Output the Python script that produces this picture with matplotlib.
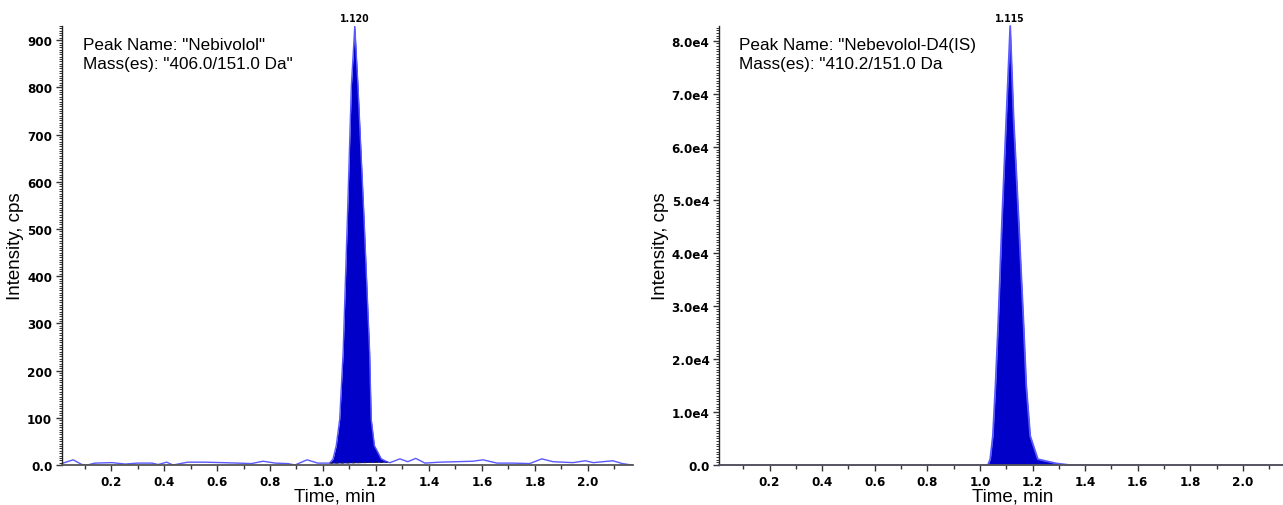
import matplotlib
matplotlib.use("Agg")
import matplotlib.pyplot as plt
from matplotlib import font_manager as fm
from matplotlib.ticker import MultipleLocator, FuncFormatter

# ---- Nebivolol channel (406.0/151.0) ----
neb_noise_t = [0.008, 0.057, 0.09, 0.11, 0.14, 0.204, 0.253, 0.30, 0.355, 0.378,
               0.41, 0.434, 0.49, 0.555, 0.62, 0.68, 0.73, 0.774, 0.82, 0.868,
               0.894, 0.94, 0.98, 1.02]
neb_noise_y = [2, 11, 1, 0, 4, 5, 2, 4, 4, 1,
               6, 0, 6, 6, 5, 4, 3, 8, 4, 3,
               0, 11, 4, 4]
neb_peak_t = [1.025, 1.038, 1.050, 1.063, 1.076, 1.092, 1.107, 1.120,
              1.132, 1.155, 1.176, 1.182, 1.194, 1.220, 1.245]
neb_peak_y = [4, 13, 41, 97, 239, 521, 803, 930,
              803, 521, 239, 97, 41, 13, 6]
neb_tail_t = [1.253, 1.29, 1.32, 1.35, 1.385, 1.44, 1.506, 1.566, 1.604, 1.657,
              1.717, 1.78, 1.826, 1.868, 1.943, 1.99, 2.02, 2.094, 2.13, 2.165]
neb_tail_y = [5, 13, 7, 14, 4, 6, 7, 8, 11, 4,
              4, 3, 13, 7, 5, 9, 5, 9, 3, 0]
neb_apex = "1.120"

# ---- Nebivolol-D4 internal standard channel (410.2/151.0) ----
is_base_t = [0.008, 0.5, 1.0, 1.025]
is_base_y = [0, 0, 0, 0]
is_peak_t = [1.030, 1.039, 1.049, 1.059, 1.070, 1.084, 1.100, 1.115,
             1.128, 1.147, 1.165, 1.176, 1.191, 1.220, 1.290, 1.340]
is_peak_y = [0, 1100, 5500, 15000, 27500, 46400, 65300, 82800,
             65300, 46400, 27500, 15000, 5500, 1100, 300, 0]
is_tail_t = [1.40, 1.8, 2.16]
is_tail_y = [0, 0, 0]
is_apex = "1.115"

FILL = "#0000c8"
LINE = "#5a5aff"
TEXT_FAMILY = ["Liberation Sans", "DejaVu Sans"]


def narrow_bold_font(size):
    """Pick an installed condensed/narrow bold sans face for tick labels."""
    best = None
    for f in fm.fontManager.ttflist:
        name = f.name.lower()
        stretch = f.stretch
        narrow = ("narrow" in name or "condensed" in name
                  or (isinstance(stretch, str) and ("condensed" in stretch or "narrow" in stretch))
                  or (isinstance(stretch, (int, float)) and stretch < 500))
        if not narrow or "mono" in name or "serif" in name and "sans" not in name:
            continue
        w = f.weight
        wnum = {"bold": 700, "semibold": 600, "demibold": 600, "heavy": 800,
                "black": 900, "normal": 400, "regular": 400, "medium": 500}.get(w, w) \
            if isinstance(w, str) else w
        try:
            wnum = int(wnum)
        except (TypeError, ValueError):
            wnum = 400
        if f.style != "normal":
            continue
        score = abs(wnum - 700)
        if best is None or score < best[0]:
            best = (score, f.fname)
    if best is not None:
        return fm.FontProperties(fname=best[1], size=size)
    return fm.FontProperties(family="DejaVu Sans", weight="bold", size=size - 1)


fig = plt.figure(figsize=(12.83, 5.06), dpi=100)
W, H = 1283, 506
tick_fp = narrow_bold_font(9.5)
apex_fp = narrow_bold_font(7.5)


def make_axes(x0, x1):
    return fig.add_axes([x0 / W, (H - 466) / H, (x1 - x0) / W, (466 - 27) / H])


def style(ax, xlim, ylim, ymajor, yminor, yfmt):
    ax.set_xlim(*xlim)
    ax.set_ylim(*ylim)
    for s in ("top", "right"):
        ax.spines[s].set_visible(False)
    ax.spines["left"].set_color("#222222")
    ax.spines["bottom"].set_color("#555555")
    ax.spines["left"].set_linewidth(1.0)
    ax.spines["bottom"].set_linewidth(1.3)
    ax.xaxis.set_major_locator(MultipleLocator(0.2))
    ax.xaxis.set_minor_locator(MultipleLocator(0.1))
    ax.yaxis.set_major_locator(MultipleLocator(ymajor))
    ax.yaxis.set_minor_locator(MultipleLocator(yminor))
    ax.yaxis.set_major_formatter(FuncFormatter(yfmt))
    ax.xaxis.set_major_formatter(FuncFormatter(lambda v, p: f"{v:.1f}"))
    ax.tick_params(axis="x", which="major", length=4, width=1, color="#333333", pad=3)
    ax.tick_params(axis="x", which="minor", length=3, width=1, color="#333333")
    ax.tick_params(axis="y", which="major", length=4, width=1, color="#333333", pad=3)
    ax.tick_params(axis="y", which="minor", length=2, width=0.7, color="#333333")
    for lab in ax.get_xticklabels() + ax.get_yticklabels():
        lab.set_fontproperties(tick_fp)
    ax.set_xlabel("Time, min", family=TEXT_FAMILY, size=13.5, va="top")
    ax.set_ylabel("Intensity, cps", family=TEXT_FAMILY, size=13.5)


# Left panel
ax1 = make_axes(62, 633)
t1 = neb_noise_t + neb_peak_t + neb_tail_t
y1 = neb_noise_y + neb_peak_y + neb_tail_y
t0, tn = neb_peak_t[0], neb_peak_t[-1]
base1 = [neb_peak_y[0] + (neb_peak_y[-1] - neb_peak_y[0]) * (t - t0) / (tn - t0)
         for t in neb_peak_t]
ax1.fill_between(neb_peak_t, neb_peak_y, base1, color=FILL, lw=0)
ax1.plot(t1, y1, color=LINE, lw=1.0)
ax1.plot([t0, tn], [neb_peak_y[0], neb_peak_y[-1]], color="#222244", lw=0.8,
         ls=(0, (3, 2)))
style(ax1, (0.015, 2.17), (0, 930), 100, 5,
      lambda v, p: "0.0" if v == 0 else f"{v:.0f}")
ax1.yaxis.set_label_coords(-0.066, 0.5)
ax1.xaxis.set_label_coords(0.478, -0.052)
ax1.text(0.036, 0.975, 'Peak Name: "Nebivolol"\nMass(es): "406.0/151.0 Da"',
         transform=ax1.transAxes, va="top", ha="left",
         family=TEXT_FAMILY, size=12.3, linespacing=1.3)
ax1.annotate(neb_apex, (1.120, 930), xytext=(0, 2), textcoords="offset points",
             ha="center", va="bottom", fontproperties=apex_fp, annotation_clip=False)

# Right panel
ax2 = make_axes(719, 1283)
t2 = is_base_t + is_peak_t + is_tail_t
y2 = is_base_y + is_peak_y + is_tail_y
ax2.fill_between(is_peak_t, is_peak_y, 0, color=FILL, lw=0)
ax2.plot(t2, y2, color=LINE, lw=1.3, clip_on=False)
style(ax2, (0.008, 2.152), (0, 82800), 10000, 500,
      lambda v, p: "0.0" if v == 0 else f"{v / 1e4:.1f}e4")
ax2.yaxis.set_label_coords(-0.088, 0.5)
ax2.xaxis.set_label_coords(0.52, -0.052)
ax2.text(0.036, 0.975, 'Peak Name: "Nebevolol-D4(IS)\nMass(es): "410.2/151.0 Da',
         transform=ax2.transAxes, va="top", ha="left",
         family=TEXT_FAMILY, size=12.3, linespacing=1.3)
ax2.annotate(is_apex, (1.115, 82800), xytext=(0, 2), textcoords="offset points",
             ha="center", va="bottom", fontproperties=apex_fp, annotation_clip=False)

fig.savefig("out.png", dpi=100, facecolor="white")
